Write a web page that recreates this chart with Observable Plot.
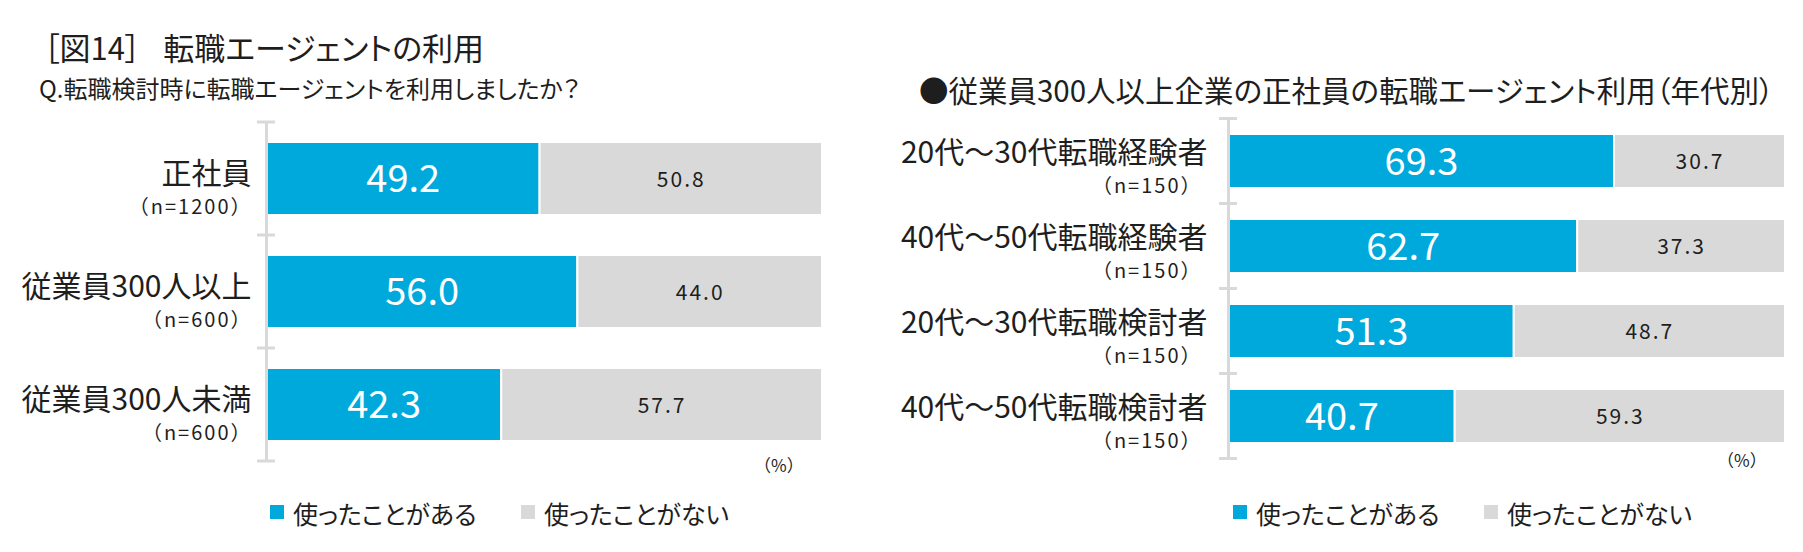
<!DOCTYPE html>
<html><head><meta charset="utf-8">
<script src="https://cdn.jsdelivr.net/npm/d3@7"></script>
<script src="https://cdn.jsdelivr.net/npm/@observablehq/plot@0.6"></script>
<style>
body{margin:0;background:#fff;font-family:"Noto Sans CJK JP","Noto Sans",sans-serif;color:#1e1e1e}
#root{position:relative;width:1803px;height:552px;overflow:hidden;background:#fff}
.abs{position:absolute;white-space:nowrap;line-height:1}
.palt{font-feature-settings:"palt" 1}
.sw{position:absolute;width:14px;height:14px}
svg{position:absolute;overflow:visible}
</style></head><body><div id="root"></div>
<script>
// ---- data ----
const seriesNames = ["使ったことがある", "使ったことがない"];
const seriesColors = ["#00A9DC", "#D9D9D9"];

const leftCategories = ["正社員", "従業員300人以上", "従業員300人未満"];
const leftN = ["（n=1200）", "（n=600）", "（n=600）"];
const leftUsed = [49.2, 56.0, 42.3];
const leftNotUsed = [50.8, 44.0, 57.7];

const rightCategories = ["20代～30代転職経験者", "40代～50代転職経験者", "20代～30代転職検討者", "40代～50代転職検討者"];
const rightN = ["（n=150）", "（n=150）", "（n=150）", "（n=150）"];
const rightUsed = [69.3, 62.7, 51.3, 40.7];
const rightNotUsed = [30.7, 37.3, 48.7, 59.3];

const mainTitle = "［図14］ 転職エージェントの利用";
const leftSubtitle = "Q.転職検討時に転職エージェントを利用しましたか？";
const rightTitle = "●従業員300人以上企業の正社員の転職エージェント利用（年代別）";
const unitLabel = "（%）";

const FONT = '"Noto Sans CJK JP","Noto Sans",sans-serif';
const fmt = d3.format(".1f");
const root = document.getElementById("root");

function addText(txt, left, top, size, cls = "", extra = {}) {
  const d = document.createElement("div");
  d.className = "abs " + cls;
  d.textContent = txt;
  Object.assign(d.style, {left: left + "px", top: top + "px", fontSize: size + "px"}, extra);
  root.appendChild(d);
  return d;
}

function chart(o) {
  const rows = o.cats.flatMap((c, i) => [
    {cat: c, series: seriesNames[0], value: o.used[i]},
    {cat: c, series: seriesNames[1], value: o.notUsed[i]}
  ]);
  const nRows = o.cats.map((c, i) => ({cat: c, n: o.ns[i]}));
  const plot = Plot.plot({
    width: o.width, height: o.height,
    marginLeft: o.ml, marginRight: o.mr, marginTop: o.mt, marginBottom: o.mb,
    x: {domain: [0, 100], axis: null},
    y: {domain: o.cats, axis: null, paddingInner: o.pin, paddingOuter: o.pin / 2},
    color: {domain: seriesNames, range: seriesColors},
    style: {fontFamily: FONT, background: "transparent", overflow: "visible"},
    marks: [
      Plot.barX(rows, Plot.stackX({x: "value", y: "cat", fill: "series", stroke: "white", strokeWidth: 2})),
      Plot.text(rows, Plot.stackX({x: "value", y: "cat", z: "series",
        text: d => d.series === seriesNames[0] ? fmt(d.value) : "",
        fill: "white", fontSize: o.bigSize, dy: 1})),
      Plot.text(rows, Plot.stackX({x: "value", y: "cat", z: "series",
        text: d => d.series === seriesNames[1] ? fmt(d.value) : "",
        fill: "#1e1e1e", fontSize: o.smallSize, dy: 1})),
      Plot.ruleX([0], {stroke: "#D9D9D9", strokeWidth: 3}),
      Plot.text(o.cats, {x: 0, y: d => d, text: d => d, textAnchor: "end",
        dx: o.labelDx, dy: o.mainDy, fontSize: o.mainSize, fill: "#1e1e1e"}),
      Plot.text(nRows, {x: 0, y: "cat", text: "n", textAnchor: "end",
        dx: o.nDx, dy: o.nDy, fontSize: o.nSize, fill: "#1e1e1e"})
    ]
  });
  // wider letter spacing for the small texts (n labels and grey values)
  d3.select(plot).selectAll("g")
    .filter(function () { return this.getAttribute("font-size") == o.nSize || this.getAttribute("font-size") == o.smallSize; })
    .attr("letter-spacing", 2);
  // category boundary ticks on the axis line
  const ys = plot.scale("y");
  const xs = plot.scale("x");
  const off = (ys.step - ys.bandwidth) / 2;
  const bounds = o.cats.map(c => ys.apply(c) - off)
    .concat([ys.apply(o.cats[o.cats.length - 1]) + ys.bandwidth + off]);
  const x0 = xs.apply(0);
  d3.select(plot).append("g").selectAll("line").data(bounds).join("line")
    .attr("x1", x0 - 9).attr("x2", x0 + 9)
    .attr("y1", d => d).attr("y2", d => d)
    .attr("stroke", "#D9D9D9").attr("stroke-width", 3);
  plot.style.left = o.left + "px";
  plot.style.top = o.top + "px";
  root.appendChild(plot);
  return plot;
}

// ---- titles ----
addText(mainTitle, 44, 31, 31, "palt", {wordSpacing: "16px"});
addText(leftSubtitle, 39, 76, 24, "palt");
addText(rightTitle, 919, 75, 29.5, "palt");

// ---- left chart ----
chart({cats: leftCategories, ns: leftN, used: leftUsed, notUsed: leftNotUsed,
  left: 0, top: 110, width: 840, height: 370, ml: 266, mr: 18, mt: 12, mb: 19, pin: 0.355,
  bigSize: 38, smallSize: 21, mainSize: 30, nSize: 20, labelDx: -15, nDx: -14, mainDy: -5, nDy: 29});

// ---- right chart ----
chart({cats: rightCategories, ns: rightN, used: rightUsed, notUsed: rightNotUsed,
  left: 900, top: 105, width: 903, height: 375, ml: 328, mr: 18, mt: 13, mb: 22, pin: 0.365,
  bigSize: 38, smallSize: 21, mainSize: 30, nSize: 20, labelDx: -21, nDx: -26, mainDy: -8, nDy: 25});

// ---- unit labels ----
addText(unitLabel, 754, 456, 17);
addText(unitLabel, 1717, 451, 17);

// ---- legends ----
function legend(xs, y) {
  xs.forEach((x, i) => {
    const sw = document.createElement("div");
    sw.className = "sw";
    Object.assign(sw.style, {left: x + "px", top: (y - 7) + "px", background: seriesColors[i]});
    root.appendChild(sw);
    addText(seriesNames[i], x + 23, y - 11, 25, "palt");
  });
}
legend([270, 521], 512);
legend([1233, 1484], 512);
</script>
</body></html>
